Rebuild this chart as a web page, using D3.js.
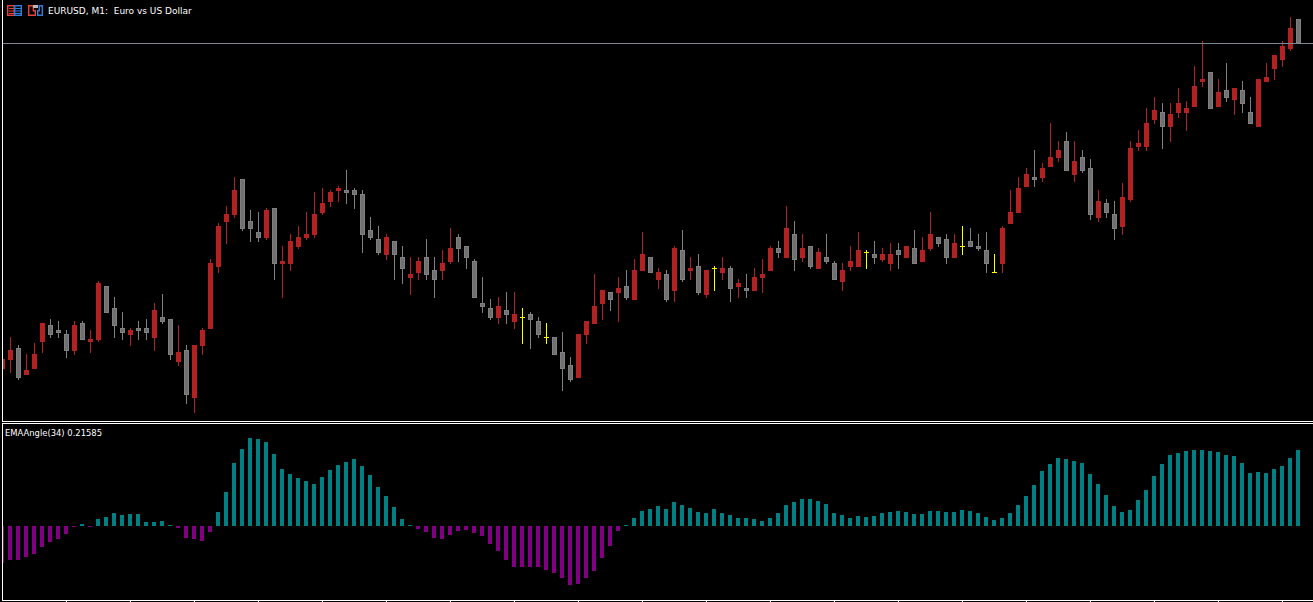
<!DOCTYPE html>
<html>
<head>
<meta charset="utf-8">
<title>EURUSD, M1</title>
<script src="https://d3js.org/d3.v7.min.js"></script>
<style>
html,body{margin:0;padding:0;background:#000;overflow:hidden}
svg{display:block}
text{fill:#fff;font-family:"DejaVu Sans",sans-serif;font-size:9px;white-space:pre}
</style>
</head>
<body>
<svg id="chart" width="1313" height="602"></svg>
<script>
// Prices are points above the bottom of the main window
const open  = [156,183,219,138,156,237,288,273,261,210,294,237,243,405,339,279,258,279,279,249,312,306,177,213,69,225,276,462,597,618,726,600,567,549,639,471,471,522,549,558,624,657,690,693,693,681,573,546,498,540,492,429,444,492,453,450,477,552,525,480,354,339,309,333,297,312,321,300,252,252,207,168,129,258,291,351,387,384,405,363,450,492,423,441,390,513,450,465,378,459,444,459,402,399,390,429,450,519,489,561,489,525,456,492,474,417,462,462,507,501,483,471,513,489,519,477,516,552,546,489,524,540,525,513,446,471,591,624,702,732,729,762,789,840,738,792,759,609,654,621,582,663,822,822,903,927,882,924,924,942,1017,1047,942,993,963,993,927,882,1017,1056,1083,1116,1206];
const high  = [186,252,228,201,234,294,306,300,273,300,300,273,420,405,372,327,279,300,306,354,381,306,288,228,228,279,486,594,645,732,726,633,627,639,639,525,561,585,627,687,699,693,705,753,699,693,612,585,561,540,525,492,492,546,492,513,579,561,525,486,432,366,372,387,387,339,327,312,294,252,267,192,261,300,441,393,387,432,453,486,567,492,459,453,525,573,492,501,453,465,492,465,426,441,459,486,525,540,645,600,561,525,519,561,480,474,525,567,513,540,519,534,534,525,573,552,627,552,561,561,585,579,561,567,501,585,693,732,759,813,774,894,840,867,840,813,786,693,666,660,714,840,873,939,972,954,954,999,960,1065,1140,1047,1026,1074,999,1020,972,1026,1074,1098,1140,1212,1206];
const low   = [150,144,123,138,156,204,249,249,189,198,243,204,237,324,249,243,225,243,243,210,291,183,165,51,24,198,276,444,531,609,570,537,537,543,423,369,450,516,543,549,618,642,657,651,636,504,543,498,483,423,411,378,423,423,369,423,471,477,456,369,324,303,291,291,276,231,216,249,231,198,90,117,129,231,291,303,330,297,363,363,450,444,396,357,357,417,423,378,369,390,423,357,369,369,390,384,450,489,489,450,477,456,456,471,423,390,450,462,456,471,477,450,456,489,471,477,510,522,471,489,498,522,510,444,444,444,591,624,702,702,717,762,777,750,717,744,603,597,609,543,558,657,810,810,891,816,837,909,870,942,1002,936,942,957,918,924,891,882,1017,1023,1062,1110,1134];
const close = [186,213,129,153,201,294,258,264,210,288,243,246,414,324,285,264,273,270,264,333,297,198,207,78,228,273,474,585,621,693,576,576,549,633,471,480,540,552,561,621,654,687,699,684,678,558,549,504,552,498,456,441,480,438,423,474,519,516,489,369,342,309,345,318,321,312,303,258,252,198,156,123,261,300,345,393,363,399,369,453,501,444,447,363,519,423,459,384,453,459,459,396,414,390,432,441,519,504,579,483,519,462,507,477,423,453,480,513,507,489,501,501,498,525,471,513,561,531,489,534,524,522,516,471,446,579,627,699,741,723,759,792,813,750,780,750,618,660,624,576,672,819,834,894,933,882,921,954,939,1005,1026,936,987,969,999,951,891,1026,1032,1098,1125,1179,1134];
// EMAAngle histogram, in thousandths of a unit of the indicator's window
const angle = [-110,-102,-102,-93,-84,-63,-48,-39,-24,-3,6,-3,21,27,39,33,36,36,12,12,15,3,-6,-36,-39,-45,-18,42,102,189,231,264,261,252,216,171,156,144,135,126,147,168,183,192,201,180,153,117,90,57,21,3,-9,-18,-36,-39,-27,-15,-12,-21,-30,-54,-75,-102,-123,-123,-123,-123,-132,-141,-156,-177,-174,-156,-135,-96,-60,-15,3,24,45,51,60,51,72,63,54,42,39,51,39,33,24,24,21,15,24,39,63,72,81,81,75,66,39,33,24,30,27,30,39,42,45,42,36,36,45,45,42,42,48,45,39,27,18,24,39,63,90,123,165,186,204,201,195,189,156,126,93,60,42,48,78,108,150,186,213,219,225,228,228,225,222,213,210,189,159,162,159,171,180,204,228];
const symbolTitle = "EURUSD, M1:  Euro vs US Dollar";
const indicatorTitle = "EMAAngle(34) 0.21585";

const colors = {bull:"#b22222", bearFill:"#707070", bearEdge:"#808080", doji:"#ffff00",
                up:"#008080", down:"#800080", frame:"#ffffff", price:"#778899"};

const svg = d3.select("#chart");
const bars = d3.range(close.length);
const x = d3.scaleLinear().domain([0, close.length - 1]).range([2, 1298]);
const y = d3.scaleLinear().domain([0, 1263]).range([421, 0]);
const yA = d3.scaleLinear().domain([-222, 309]).range([600, 423]);

svg.append("clipPath").attr("id", "plot").append("rect")
  .attr("x", 3).attr("y", 0).attr("width", 1310).attr("height", 602);

// main window
const main = svg.append("g").attr("shape-rendering", "crispEdges").attr("clip-path", "url(#plot)");
const kind = i => close[i] > open[i] ? "bull" : close[i] < open[i] ? "bear" : "doji";

main.selectAll("rect.wick").data(bars).join("rect").attr("class", "wick")
  .attr("x", i => x(i)).attr("width", 1)
  .attr("y", i => y(high[i])).attr("height", i => y(low[i]) - y(high[i]))
  .attr("fill", i => kind(i) === "bull" ? colors.bull : kind(i) === "bear" ? colors.bearEdge : colors.doji);

main.selectAll("rect.body").data(bars.filter(i => kind(i) === "bull")).join("rect").attr("class", "body")
  .attr("x", i => x(i) - 2).attr("width", 5)
  .attr("y", i => y(close[i])).attr("height", i => y(open[i]) - y(close[i]))
  .attr("fill", colors.bull);

main.selectAll("rect.bear").data(bars.filter(i => kind(i) === "bear")).join("rect").attr("class", "bear")
  .attr("x", i => x(i) - 1.5).attr("width", 4)
  .attr("y", i => y(open[i]) + 0.5).attr("height", i => Math.max(1, y(close[i]) - y(open[i]) - 1))
  .attr("fill", colors.bearFill).attr("stroke", colors.bearEdge);

main.selectAll("rect.doji").data(bars.filter(i => kind(i) === "doji")).join("rect").attr("class", "doji")
  .attr("x", i => x(i) - 2).attr("width", 5)
  .attr("y", i => y(close[i])).attr("height", 1)
  .attr("fill", colors.doji);

// bid price line sits at the last close
main.append("rect").attr("x", 2).attr("width", 1311).attr("y", Math.round(y(close[close.length - 1]))).attr("height", 1)
  .attr("fill", colors.price);

// indicator window
const sub = svg.append("g").attr("shape-rendering", "crispEdges").attr("clip-path", "url(#plot)");
sub.selectAll("rect").data(bars).join("rect")
  .attr("x", i => x(i) - 2).attr("width", 4)
  .attr("y", i => Math.min(yA(0), yA(angle[i])))
  .attr("height", i => Math.abs(yA(angle[i]) - yA(0)))
  .attr("fill", i => angle[i] >= 0 ? colors.up : colors.down);

// frames
const frame = svg.append("g").attr("shape-rendering", "crispEdges").attr("fill", colors.frame);
frame.append("rect").attr("x", 2).attr("y", 0).attr("width", 1).attr("height", 421);
frame.append("rect").attr("x", 2).attr("y", 421).attr("width", 1311).attr("height", 1);
frame.append("rect").attr("x", 2).attr("y", 423).attr("width", 1311).attr("height", 1);
frame.append("rect").attr("x", 2).attr("y", 423).attr("width", 1).attr("height", 178);
frame.append("rect").attr("x", 2).attr("y", 600).attr("width", 1311).attr("height", 1);

// time axis ticks (labels are cut off below the window)
const axis = d3.axisBottom(x).tickValues(bars.filter(i => i > 0 && i % 8 === 0)).tickSize(1).tickFormat("");
const ax = svg.append("g").attr("transform", "translate(0,600.5)").attr("shape-rendering", "crispEdges").call(axis);
ax.select(".domain").remove();
ax.selectAll(".tick line").attr("stroke", colors.frame);

// titlebar icons
const ic = svg.append("g").attr("fill", "none").attr("stroke-width", 1.4);
ic.append("rect").attr("x", 7.7).attr("y", 5.7).attr("width", 6.6).attr("height", 9.6).attr("stroke", "#e8413c");
ic.append("rect").attr("x", 14.7).attr("y", 5.7).attr("width", 6.6).attr("height", 9.6).attr("stroke", "#2f7ddc");
[8.5, 11, 13.5].forEach(v => {
  ic.append("rect").attr("x", 9).attr("y", v - 0.5).attr("width", 5).attr("height", 1).attr("fill", "#e8413c");
  ic.append("rect").attr("x", 15).attr("y", v - 0.5).attr("width", 6).attr("height", 1).attr("fill", "#2f7ddc");
});
ic.append("path").attr("d", "M28.7 5.7H33.3V10.7H35.3V15.3H28.7Z").attr("stroke", "#e8413c");
ic.append("path").attr("d", "M37.7 10.7V15.3H42.3V5.7H39.3V10.7Z").attr("stroke", "#2f7ddc");
ic.append("rect").attr("x", 33).attr("y", 5).attr("width", 5).attr("height", 3).attr("fill", "#b8b8b8");

// texts
svg.append("text").attr("x", 48).attr("y", 14).text(symbolTitle);
svg.append("text").attr("x", 5).attr("y", 436)
  .attr("textLength", 97).attr("lengthAdjust", "spacingAndGlyphs").text(indicatorTitle);
</script>
</body>
</html>
